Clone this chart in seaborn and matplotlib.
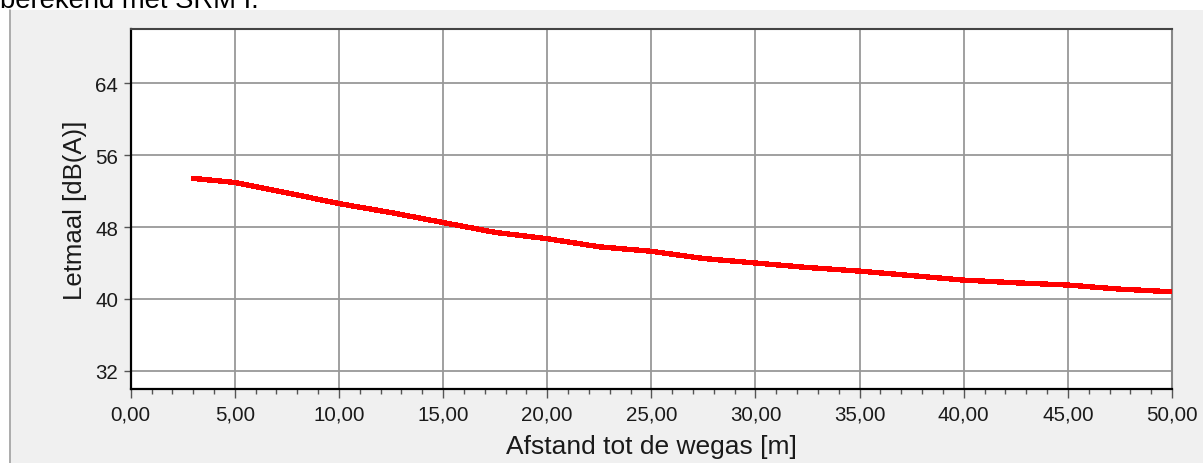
import numpy as np
import pandas as pd
import matplotlib
matplotlib.use('Agg')
import matplotlib.pyplot as plt
from matplotlib.patches import Rectangle
from matplotlib.lines import Line2D
from matplotlib.ticker import MultipleLocator, FuncFormatter
import seaborn as sns

# Data
afstand = [3, 5, 7.5, 10, 12.5, 15, 17.5, 20, 22.5, 25, 27.5, 30,
           32.5, 35, 37.5, 40, 42.5, 45, 47.5, 50]
letmaal = [53.4, 52.95, 51.8, 50.6, 49.6, 48.5, 47.4, 46.7, 45.8, 45.3,
           44.5, 44.0, 43.5, 43.1, 42.6, 42.1, 41.8, 41.55, 41.1, 40.8]
y_ticks = [32, 40, 48, 56, 64]
caption = 'berekend met SRM I.'
x_label = 'Afstand tot de wegas [m]'
y_label = 'Letmaal [dB(A)]'

df = pd.DataFrame({'afstand': afstand, 'letmaal': letmaal})

sns.set_style('white')
plt.rcParams['font.family'] = ['Liberation Sans', 'DejaVu Sans']

W, H = 1203, 464
fig = plt.figure(figsize=(W / 100, H / 100), dpi=100)
fig.patch.set_facecolor('white')

# grey panel behind the chart
fig.patches.append(Rectangle((9 / W, 0), 1 - 9 / W, (H - 11) / H,
                             transform=fig.transFigure, facecolor='#f0f0f0',
                             edgecolor='none', zorder=-10))
fig.lines.append(Line2D([9.5 / W, 9.5 / W], [0, (H - 11) / H],
                        transform=fig.transFigure, color='#a0a0a0', lw=1.2,
                        zorder=-9))

# caption cut off at the top, as in the source screenshot
fig.text(0.0, 1 - 8 / H, caption, fontsize=19.7, color='black', va='baseline')

left, right, top, bottom = 130.7, 1172, 30, 390
ax = fig.add_axes([left / W, (H - bottom) / H, (right - left) / W, (bottom - top) / H])
ax.set_facecolor('white')

sns.lineplot(data=df, x='afstand', y='letmaal', ax=ax, color='#ff0000',
             linewidth=3.1, antialiased=False, zorder=3)

ax.set_xlim(0, 50)
ax.set_ylim(30, 70)
ax.xaxis.set_major_locator(MultipleLocator(5))
ax.xaxis.set_minor_locator(MultipleLocator(1))
ax.set_yticks(y_ticks)
ax.xaxis.set_major_formatter(FuncFormatter(lambda v, p: f'{v:.2f}'.replace('.', ',')))
ax.yaxis.set_major_formatter(FuncFormatter(lambda v, p: f'{v:.0f}'))

ax.grid(True, which='major', color='#999999', lw=1.3)
ax.set_axisbelow(True)

ax.tick_params(axis='both', which='major', direction='out', length=5,
               width=1, color='#555555', labelsize=14.8, labelcolor='#1a1a1a',
               bottom=True, left=True)
ax.tick_params(axis='x', which='major', length=6.5, pad=5)
ax.tick_params(axis='y', which='major', pad=4)
ax.tick_params(axis='x', which='minor', direction='out', length=3.5,
               width=1, color='#555555', bottom=True)

for side in ['left', 'bottom']:
    ax.spines[side].set_color('black')
    ax.spines[side].set_linewidth(1.6)
ax.spines['top'].set_color('#444444')
ax.spines['top'].set_linewidth(1.5)
ax.spines['right'].set_color('#888888')
ax.spines['right'].set_linewidth(1.5)

ax.set_xlabel(x_label, fontsize=19, color='#1a1a1a', labelpad=7)
ax.set_ylabel(y_label, fontsize=18.5, color='#1a1a1a', labelpad=6)

fig.savefig('out.png', dpi=100)
